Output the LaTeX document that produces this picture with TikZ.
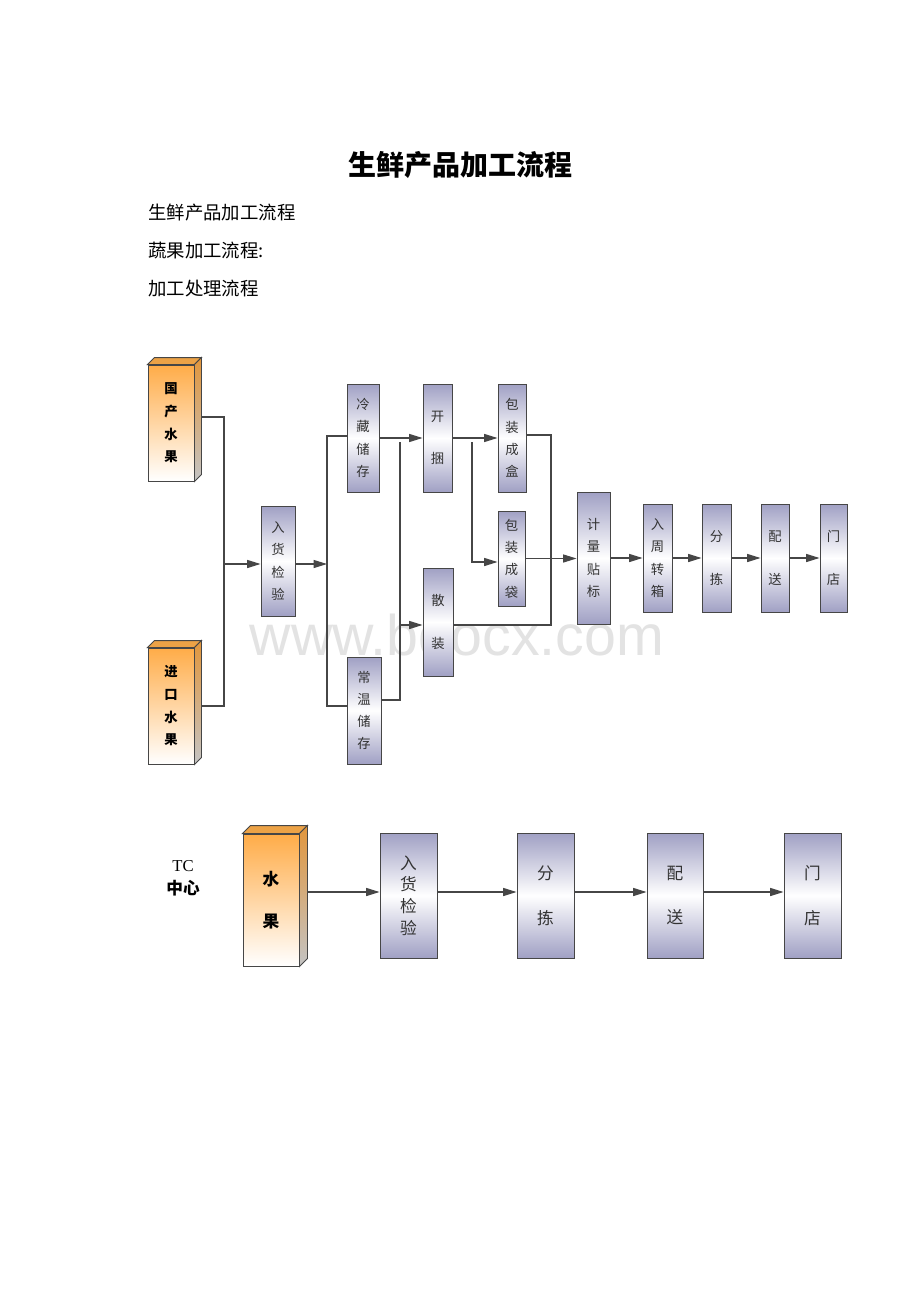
\documentclass[tikz,border=0pt]{standalone}
\usepackage{fontspec}
\setmainfont{Liberation Serif}
\newfontfamily\cjk{Noto Sans CJK SC}
\newfontfamily\wmfont{Liberation Sans}
\usetikzlibrary{arrows.meta}
\definecolor{lav}{RGB}{160,160,196}
\definecolor{orng}{RGB}{255,172,72}
\definecolor{orngtop}{RGB}{236,162,70}
\definecolor{orngside}{RGB}{226,150,60}
\definecolor{sidegray}{RGB}{196,196,196}
\definecolor{edge}{RGB}{70,70,70}
\begin{document}
\begin{tikzpicture}[x=0.75pt,y=-0.75pt,
  line/.style={draw=edge, line width=0.8pt},
  arr/.style={line, -{Triangle[length=10pt,width=6pt]}},
  boxsize/.style 2 args={minimum width=#1*0.75pt, minimum height=#2*0.75pt},
  proc/.style={draw=edge, line width=0.7pt, inner sep=0pt, top color=lav, bottom color=lav, middle color=white, align=center, text=black!80},
  procfour/.style={proc, font=\cjk\fontsize{10}{16.7}\selectfont},
  proctwo/.style={proc, font=\cjk\fontsize{10}{32}\selectfont},
  bigfour/.style={proc, font=\cjk\fontsize{12.5}{16.3}\selectfont},
  bigtwo/.style={proc, font=\cjk\fontsize{12.5}{33.7}\selectfont},
  front/.style={draw=edge, line width=0.7pt, inner sep=0pt, top color=orng, bottom color=white, align=center, text=black},
  topface/.style={draw=edge, line width=0.7pt, fill=orngtop},
  sideface/.style={draw=edge, line width=0.7pt, top color=orngside, bottom color=sidegray},
  txt/.style={font=\cjk\fontsize{13.8}{16}\selectfont, anchor=west, inner sep=0pt}
]
\useasboundingbox (0,0) rectangle (920,1302);
\fill[white] (0,0) rectangle (920,1302);

% watermark
\node[font=\wmfont\fontsize{43}{50}\selectfont, text=black!11, inner sep=0pt] (wm) at (457,635) {www.bdocx.com};

% title and text
\node[font=\cjk\bfseries\fontsize{21}{24}\selectfont, inner sep=0pt] (title) at (460,165) {生鲜产品加工流程};
\node[txt] (t1) at (148,213) {生鲜产品加工流程};
\node[txt] (t2) at (148,251) {蔬果加工流程:};
\node[txt] (t3) at (148,289) {加工处理流程};

% ---------- top diagram ----------
\node[front, boxsize={46}{116}, font=\cjk\bfseries\fontsize{10}{17}\selectfont] (gc) at (171,423) {国\\产\\水\\果};
\node[front, boxsize={46}{116}, font=\cjk\bfseries\fontsize{10}{17}\selectfont] (jk) at (171,706) {进\\口\\水\\果};
\foreach \b in {gc,jk}{
  \draw[topface] (\b.north west) -- ++(7,-7) -- ([shift={(7,-7)}]\b.north east) -- (\b.north east) -- cycle;
  \draw[sideface] (\b.north east) -- ++(7,-7) -- ([shift={(7,-7)}]\b.south east) -- (\b.south east) -- cycle;
}

\node[procfour, boxsize={34}{110}] (rh) at (278,561) {入\\货\\检\\验};
\node[procfour, boxsize={32}{108}] (lc) at (363,438) {冷\\藏\\储\\存};
\node[procfour, boxsize={34}{107}] (cw) at (364,710.5) {常\\温\\储\\存};
\node[proctwo, boxsize={29}{108}] (kk) at (437.5,438) {开\\捆};
\node[proctwo, boxsize={30}{108}] (sz) at (438,622) {散\\装};
\node[procfour, boxsize={28}{108}] (bh) at (512,438) {包\\装\\成\\盒};
\node[procfour, boxsize={27}{95}] (bd) at (511.5,558.5) {包\\装\\成\\袋};
\node[procfour, boxsize={33}{132}] (jl) at (593.5,558) {计\\量\\贴\\标};
\node[procfour, boxsize={29}{108}] (rz) at (657.5,558) {入\\周\\转\\箱};
\node[proctwo, boxsize={29}{108}] (fj) at (716.5,558) {分\\拣};
\node[proctwo, boxsize={28}{108}] (ps) at (775,558) {配\\送};
\node[proctwo, boxsize={27}{108}] (md) at (833.5,558) {门\\店};

% junction coordinates
\coordinate (j1a) at (224,417);
\coordinate (j1b) at (224,706);
\coordinate (j1m) at (224,564);
\coordinate (j2a) at (327,436);
\coordinate (j2b) at (327,706);
\coordinate (j2m) at (327,564);
\coordinate (j3a) at (400,442);
\coordinate (j3b) at (400,700);
\coordinate (j3m) at (400,625);
\coordinate (j4a) at (472,442);
\coordinate (j4b) at (472,562);
\coordinate (j5a) at (551,435);
\coordinate (j5b) at (551,625);
\coordinate (gcR) at ([shift={(7,-6)}]gc.east);
\coordinate (jkR) at ([shift={(7,0)}]jk.east);

\draw[line] (gcR) -- (j1a) -- (j1b) -- (jkR);
\draw[arr] (j1m) -- (j1m -| rh.west);
\draw[arr] (rh.east |- j2m) -- (j2m);
\draw[line] (lc.west |- j2a) -- (j2a) -- (j2b) -- (cw.west |- j2b);
\draw[arr] (lc.east) -- (kk.west);
\draw[line] (j3a) -- (j3b) -- (cw.east |- j3b);
\draw[arr] (j3m) -- (sz.west |- j3m);
\draw[arr] (kk.east) -- (bh.west);
\draw[arr] (j4a) -- (j4b) -- (bd.west |- j4b);
\draw[line] (bh.east |- j5a) -- (j5a) -- (j5b) -- (sz.east |- j5b);
\draw[arr] (bd.east) -- (jl.west |- bd.east);
\draw[arr] (jl.east |- rz.west) -- (rz.west);
\draw[arr] (rz.east) -- (fj.west);
\draw[arr] (fj.east) -- (ps.west);
\draw[arr] (ps.east) -- (md.west);

% ---------- bottom diagram ----------
\node[font=\fontsize{12.5}{16}\selectfont, inner sep=0pt] (tc) at (183,866) {TC};
\node[font=\cjk\bfseries\fontsize{12.5}{16}\selectfont, inner sep=0pt] (zx) at (183,888) {中心};

\node[front, boxsize={56}{132}, font=\cjk\bfseries\fontsize{12.5}{31.5}\selectfont] (sg) at (271,900) {水\\果};
\draw[topface] (sg.north west) -- ++(8,-8) -- ([shift={(8,-8)}]sg.north east) -- (sg.north east) -- cycle;
\draw[sideface] (sg.north east) -- ++(8,-8) -- ([shift={(8,-8)}]sg.south east) -- (sg.south east) -- cycle;

\node[bigfour, boxsize={57}{125}] (rh2) at (408.5,895.5) {入\\货\\检\\验};
\node[bigtwo, boxsize={57}{125}] (fj2) at (545.5,895.5) {分\\拣};
\node[bigtwo, boxsize={56}{125}] (ps2) at (675,895.5) {配\\送};
\node[bigtwo, boxsize={57}{125}] (md2) at (812.5,895.5) {门\\店};

\coordinate (sgR) at ([shift={(8,-8)}]sg.east);
\draw[arr] (sgR) -- (sgR -| rh2.west);
\draw[arr] (rh2.east |- sgR) -- (fj2.west |- sgR);
\draw[arr] (fj2.east |- sgR) -- (ps2.west |- sgR);
\draw[arr] (ps2.east |- sgR) -- (md2.west |- sgR);
\end{tikzpicture}
\end{document}
